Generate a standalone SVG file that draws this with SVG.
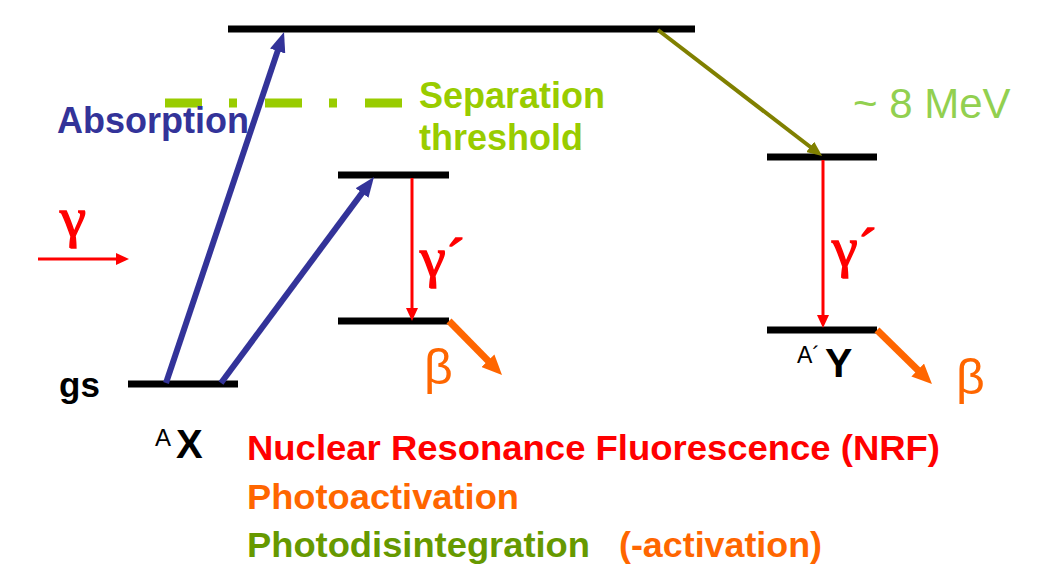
<svg xmlns="http://www.w3.org/2000/svg" width="1056" height="580" viewBox="0 0 1056 580">
<style>
.lvl{stroke:#000;stroke-width:7;fill:none}
.t{font-family:"Liberation Sans",Arial,sans-serif;font-weight:bold}
.s{font-family:"Liberation Sans",Arial,sans-serif}
.g{font-family:"Liberation Serif","Times New Roman",serif;fill:#ff0000;stroke:#ff0000;stroke-width:1.4}
</style>
<defs>
<marker id="mb" markerUnits="userSpaceOnUse" markerWidth="20" markerHeight="16" viewBox="0 0 20 16" refX="8" refY="8" orient="auto"><path d="M0,0 L20,8 L0,16 z" fill="#333399"/></marker>
<marker id="mo" markerUnits="userSpaceOnUse" markerWidth="15" markerHeight="13" viewBox="0 0 15 13" refX="6" refY="6.5" orient="auto"><path d="M0,0 L15,6.5 L0,13 z" fill="#808000"/></marker>
<marker id="mr" markerUnits="userSpaceOnUse" markerWidth="13" markerHeight="12" viewBox="0 0 13 12" refX="5" refY="6" orient="auto"><path d="M0,0 L13,6 L0,12 z" fill="#ff0000"/></marker>
<marker id="mor" markerUnits="userSpaceOnUse" markerWidth="20" markerHeight="18" viewBox="0 0 20 18" refX="8" refY="9" orient="auto"><path d="M0,0 L20,9 L0,18 z" fill="#ff6600"/></marker>
</defs>
<rect width="1056" height="580" fill="#fff"/>
<g id="level-top"><line class="lvl" x1="228" y1="29" x2="695" y2="29"/></g>
<g id="level-gs"><line class="lvl" x1="128" y1="384" x2="238" y2="384"/><text class="t" x="59" y="397" font-size="35" fill="#000">gs</text>
<text class="s" x="155" y="446" font-size="24" fill="#000">A</text><text class="t" x="176" y="458" font-size="40" fill="#000">X</text></g>
<g id="level-x1"><line class="lvl" x1="338" y1="175" x2="449" y2="175"/></g>
<g id="level-x0"><line class="lvl" x1="338" y1="321" x2="449" y2="321"/></g>
<g id="level-y1"><line class="lvl" x1="767" y1="157" x2="877" y2="157"/></g>
<g id="level-y0"><line class="lvl" x1="767" y1="330" x2="877" y2="330"/>
<text class="s" x="797" y="363" font-size="23" fill="#000">A´</text><text class="t" x="825" y="377" font-size="41" fill="#000">Y</text></g>
<g id="separation"><line x1="165" y1="103" x2="403" y2="103" stroke="#99cc00" stroke-width="9" stroke-dasharray="37 27 8 28"/>
<text class="t" font-size="36" fill="#99cc00"><tspan x="419" y="108">Separation</tspan><tspan x="419" y="150">threshold</tspan></text></g>
<g id="labels">
<text class="t" x="57" y="133" font-size="36" fill="#333399">Absorption</text>
<text class="s" x="853" y="118" font-size="42" fill="#92d050">~ 8 MeV</text>
<text class="g" x="60" y="236" font-size="54" textLength="26" lengthAdjust="spacingAndGlyphs">γ</text>
<text class="g" x="420" y="276" font-size="55" textLength="45" lengthAdjust="spacingAndGlyphs">γ´</text>
<text class="g" x="832" y="266" font-size="55" textLength="45" lengthAdjust="spacingAndGlyphs">γ´</text>
<text class="s" x="424" y="384" font-size="50" fill="#ff6600">β</text>
<text class="s" x="956" y="394" font-size="50" fill="#ff6600">β</text>
<text class="t" x="247" y="460" font-size="35" fill="#ff0000" textLength="693" lengthAdjust="spacingAndGlyphs">Nuclear Resonance Fluorescence (NRF)</text>
<text class="t" x="247" y="509" font-size="35" fill="#ff6600" textLength="272" lengthAdjust="spacingAndGlyphs">Photoactivation</text>
<text class="t" x="247" y="557" font-size="35" fill="#669900" textLength="343" lengthAdjust="spacingAndGlyphs">Photodisintegration</text>
<text class="t" x="619" y="557" font-size="35" fill="#ff6600" textLength="203" lengthAdjust="spacingAndGlyphs">(-activation)</text>
</g>
<g id="connectors" fill="none">
<line x1="166" y1="383" x2="280.2" y2="43.4" stroke="#333399" stroke-width="6" marker-end="url(#mb)"/>
<line x1="221" y1="383" x2="366.8" y2="186.6" stroke="#333399" stroke-width="6" marker-end="url(#mb)"/>
<line x1="658" y1="30" x2="815" y2="150.5" stroke="#808000" stroke-width="4" marker-end="url(#mo)"/>
<line x1="412" y1="178" x2="412" y2="313" stroke="#ff0000" stroke-width="3" marker-end="url(#mr)"/>
<line x1="823" y1="160" x2="823" y2="320" stroke="#ff0000" stroke-width="3" marker-end="url(#mr)"/>
<line x1="38" y1="259" x2="121" y2="259" stroke="#ff0000" stroke-width="3" marker-end="url(#mr)"/>
<line x1="449" y1="321" x2="493.6" y2="366.4" stroke="#ff6600" stroke-width="7" marker-end="url(#mor)"/>
<line x1="877" y1="330" x2="923.4" y2="375.6" stroke="#ff6600" stroke-width="7" marker-end="url(#mor)"/>
</g>
</svg>
